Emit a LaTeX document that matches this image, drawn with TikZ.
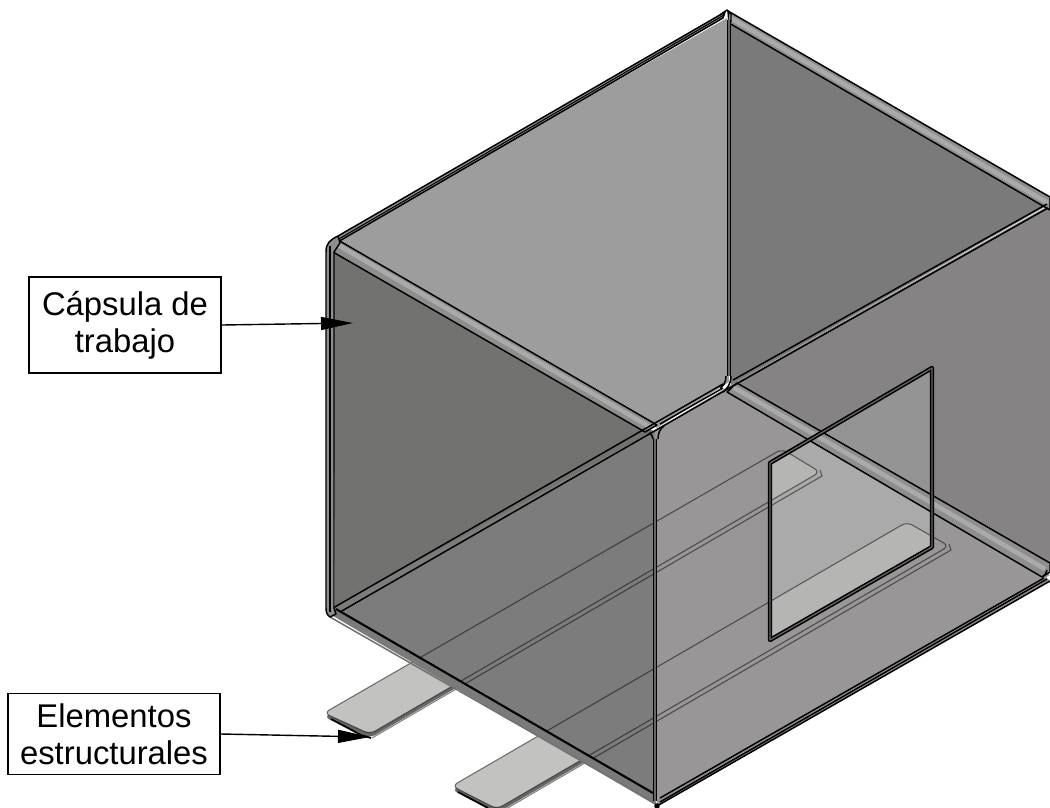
\documentclass[tikz,border=0pt]{standalone}
\usepackage{fontspec}
\setmainfont{Liberation Sans}
\usetikzlibrary{arrows.meta}
\definecolor{wallA}{HTML}{9D9D9D}
\definecolor{wallB}{HTML}{7A7A7A}
\definecolor{wallC}{HTML}{858383}
\definecolor{wallD}{HTML}{989696}
\definecolor{faceA}{HTML}{727270}
\definecolor{faceB}{HTML}{7C7C7C}
\definecolor{winA}{HTML}{AAAAAA}
\definecolor{winB}{HTML}{959494}
\definecolor{stripA}{HTML}{C2C2C0}
\definecolor{stripB}{HTML}{B5B5B3}
\definecolor{bandgray}{HTML}{8E8E8E}
\tikzset{
	edgeline/.style={draw=black,line width=0.42pt,line join=round},
	softline/.style={draw=black!55,line width=0.45pt},
	bandfill/.style={fill=bandgray,edgeline},
	glint/.style={draw=white,opacity=0.25,line width=1.3pt},
	frameline/.style={draw=black,line width=0.45pt,double=black!60,double distance=0.35pt,line join=round},
	stripfill/.style={fill=stripA,rounded corners=0.06cm},
	stripline/.style={draw=black,opacity=0.5,line width=0.3pt,rounded corners=0.06cm},
	labelbox/.style={draw=black,fill=white,line width=0.45pt,align=center,inner sep=0pt,font=\fontsize{9.33}{10.6}\selectfont},
}
% a strip of the structure: near left, near bottom, far right, far top
\newcommand{\stripshape}[4]{(#1) -- (#2) -- (#3) -- (#4) -- cycle}
\begin{document}
\begin{tikzpicture}[x=0.01cm,y=-0.01cm,>={Triangle[length=0.32cm,width=0.13cm]}]
	\useasboundingbox (0,0) rectangle (1050,808);
	% strips, under the box
	\coordinate (s1a) at (324,713); \coordinate (s1b) at (370,734);
	\coordinate (s1c) at (820,472); \coordinate (s1d) at (782,449);
	\coordinate (s2a) at (452,786); \coordinate (s2b) at (497,809);
	\coordinate (s2c) at (949,546); \coordinate (s2d) at (907,522);
	\fill[black!60,rounded corners=0.06cm] ([yshift=-0.04cm]s1a) -- ([yshift=-0.04cm]s1b) -- ([yshift=-0.04cm]s1c) -- ([yshift=-0.04cm]s1d) -- cycle;
	\fill[black!60,rounded corners=0.06cm] ([yshift=-0.04cm]s2a) -- ([yshift=-0.04cm]s2b) -- ([yshift=-0.04cm]s2c) -- ([yshift=-0.04cm]s2d) -- cycle;
	\fill[stripfill] \stripshape{s1a}{s1b}{s1c}{s1d};
	\fill[stripfill] \stripshape{s2a}{s2b}{s2c}{s2d};
	% faces
	\fill[wallA] (338,240)--(727,18)--(729,382)--(657,428)--cycle;
	\fill[wallB] (729,18)--(1048,205)--(731,385)--cycle;
	\fill[wallC] (731,385)--(1050,205)--(1050,565)--cycle;
	\fill[wallD] (655,430)--(731,385)--(1050,575)--(657,806)--cycle;
	\fill[faceA] (333,250)--(655,432)--(335,607)--cycle;
	\fill[faceB] (333,608)--(655,430)--(655,797)--cycle;
	% window
	\coordinate (w1) at (770,463); \coordinate (w2) at (932,368);
	\coordinate (w3) at (932,547); \coordinate (w4) at (770,640);
	\fill[winA] (w1)--(w2)--(w3)--(w4)--cycle;
	\begin{scope}
		\clip (w1)--(w2)--(w3)--(w4)--cycle;
		\fill[winB] (737,383)--(1050,563)--(1050,300)--(737,300)--cycle;
		\fill[stripB,rounded corners=0.06cm] \stripshape{s1a}{s1b}{s1c}{s1d};
		\fill[stripB,rounded corners=0.06cm] \stripshape{s2a}{s2b}{s2c}{s2d};
	\end{scope}
	% strip outlines, seen through the box
	\draw[stripline] \stripshape{s1a}{s1b}{s1c}{s1d};
	\draw[stripline] \stripshape{s2a}{s2b}{s2c}{s2d};
	\draw[stripline,sharp corners] (372,738)--(822,476)--(820,470);
	\draw[stripline,sharp corners] (499,813)--(951,550)--(949,544);
	\draw[black,line width=0.5pt] (331,719)--(361,735)--(371,738);
	\draw[black,line width=0.5pt] (458,792)--(488,808);
	% bands along the box edges
	\path[bandfill] (338,236)--(725,12)--(723,18)--(336,243)--cycle;
	\draw[edgeline,line width=0.3pt] (337,240)--(724,15);
	\path[bandfill] (728,11)--(1050,197)--(1050,210)--(729,23)--cycle;
	\path[bandfill] (338,240)--(657,425)--(645,432)--(333,252)--cycle;
	\path[bandfill] (737,383)--(1050,563)--(1050,572)--(1042,577)--(727,392)--cycle;
	\draw[glint] (338,245)--(650,427) (733,387)--(1045,569) (729,17)--(1048,203);
	% bottom edges of the box
	\fill[black!52] (336,609)--(653,793)--(657,806)--(328,613)--cycle;
	\draw[edgeline,line width=0.6pt] (336,609)--(653,793);
	\draw[softline] (330,617)--(655,803);
	\fill[bandgray] (660,798)--(1046,577)--(1050,581)--(657,806)--cycle;
	\draw[edgeline] (660,798)--(1044,578);
	\draw[edgeline] (660,802)--(1047,579);
	\draw[edgeline] (657,806)--(1050,581);
	% lines of the back wall, seen through the front
	\draw[edgeline] (333,608)--(723,384);
	\draw[edgeline] (340,612)--(731,387)--(1048,208);
	\draw[edgeline] (660,424)--(723,388);
	\draw[edgeline] (733,380)--(1047,204);
	% verticals and rounded corners
	\draw[edgeline,fill=bandgray] (326,252) .. controls (326,243) and (330,240) .. (338,236)--(340,243)--(334,252)--(334,608)--(336,614)--(330,617) .. controls (327,615) and (326,612) .. (326,608)--cycle;
	\draw[edgeline] (330,246)--(330,612);
	\draw[frameline] (729,20)--(729,376);
	\draw[frameline] (655,439)--(655,801);
	\draw[edgeline] (720,15)--(727,10)--(731,14)--(731,22);
	\draw[edgeline] (726,376) .. controls (726,383) and (723,386) .. (720,388);
	\draw[edgeline] (731,376) .. controls (731,384) and (727,389) .. (723,392);
	\draw[edgeline] (658,439) .. controls (658,433) and (660,429) .. (664,426);
	\draw[edgeline] (653,439) .. controls (653,436) and (651,434) .. (649,433);
	\draw[edgeline] (1042,577) .. controls (1045,575) and (1047,573) .. (1047,570);
	\draw[edgeline,fill=black] (657,806) circle (2);
	% window frame
	\draw[frameline] (w1)--(w2)--(w3)--(w4)--cycle;
	% labels
	\node[labelbox,minimum width=1.92cm,minimum height=0.96cm] (capsula) at (125,325) {Cápsula de\\trabajo};
	\node[labelbox,minimum width=2.12cm,minimum height=0.81cm] (elementos) at (114,734) {Elementos\\estructurales};
	\coordinate (capsulatip) at (353,323);
	\coordinate (elementostip) at (370,737);
	\draw[->,line width=0.4pt] (capsula.east)--(capsulatip);
	\draw[->,line width=0.4pt] (elementos.east)--(elementostip);
\end{tikzpicture}
\end{document}
